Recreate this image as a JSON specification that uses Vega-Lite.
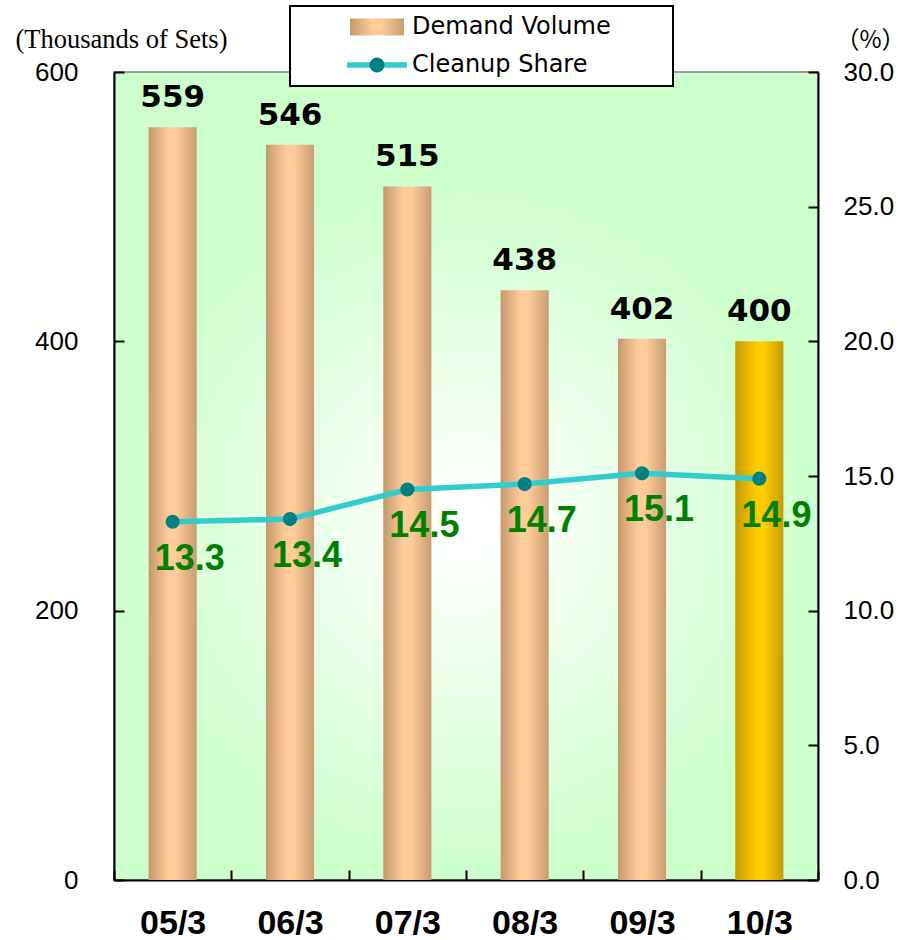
{
  "$schema": "https://vega.github.io/schema/vega-lite/v6.json",
  "width": 704,
  "height": 808,
  "autosize": {"type": "none"},
  "padding": {"left": 114, "top": 72, "right": 94, "bottom": 60},
  "background": "#ffffff",
  "view": {
    "fill": {
      "gradient": "radial",
      "x1": 0.5, "y1": 0.56, "r1": 0,
      "x2": 0.5, "y2": 0.56, "r2": 0.44,
      "stops": [
        {"offset": 0, "color": "#ffffff"},
        {"offset": 0.12, "color": "#fbfffb"},
        {"offset": 1, "color": "#ccffcc"}
      ]
    },
    "stroke": "#999999",
    "strokeWidth": 2
  },
  "data": {
    "values": [
      {"period": "05/3", "demand": 559, "share": 13.3},
      {"period": "06/3", "demand": 546, "share": 13.4},
      {"period": "07/3", "demand": 515, "share": 14.5},
      {"period": "08/3", "demand": 438, "share": 14.7},
      {"period": "09/3", "demand": 402, "share": 15.1},
      {"period": "10/3", "demand": 400, "share": 14.9}
    ]
  },
  "encoding": {
    "x": {
      "field": "period",
      "type": "nominal",
      "sort": null,
      "scale": {"paddingInner": 0, "paddingOuter": 0},
      "axis": {
        "title": null,
        "labelAngle": 0,
        "tickBand": "extent",
        "tickSize": -10,
        "labelFont": "Liberation Sans",
        "labelFontSize": 34,
        "labelFontWeight": "bold",
        "labelBaseline": "top",
        "labelPadding": 36,
        "labelOverlap": false
      }
    }
  },
  "layer": [
    {
      "encoding": {
        "y": {
          "field": "demand",
          "type": "quantitative",
          "scale": {"domain": [0, 600], "nice": false},
          "axis": {
            "orient": "left",
            "values": [0, 200, 400, 600],
            "title": "(Thousands of Sets)",
            "titleAngle": 0,
            "titleAlign": "left",
            "titleBaseline": "alphabetic",
            "titleX": -99,
            "titleY": -25,
            "titleFont": "Liberation Serif",
            "titleFontSize": 26.5,
            "titleFontWeight": "normal",
            "tickSize": -10,
            "labelPadding": 46
          }
        }
      },
      "layer": [
        {
          "transform": [{"filter": "datum.period !== '10/3'"}],
          "mark": {
            "type": "bar",
            "width": {"band": 0.41},
            "fill": {
              "gradient": "linear",
              "x1": 0, "y1": 0, "x2": 1, "y2": 0,
              "stops": [
                {"offset": 0, "color": "#c4986e"},
                {"offset": 0.42, "color": "#ffcc99"},
                {"offset": 0.58, "color": "#ffcc99"},
                {"offset": 1, "color": "#c89c72"}
              ]
            },
            "stroke": null
          }
        },
        {
          "transform": [{"filter": "datum.period === '10/3'"}],
          "mark": {
            "type": "bar",
            "width": {"band": 0.41},
            "fill": {
              "gradient": "linear",
              "x1": 0, "y1": 0, "x2": 1, "y2": 0,
              "stops": [
                {"offset": 0, "color": "#c49c00"},
                {"offset": 0.45, "color": "#ffcc00"},
                {"offset": 0.6, "color": "#ffcc00"},
                {"offset": 1, "color": "#c49c00"}
              ]
            },
            "stroke": null
          }
        },
        {
          "mark": {
            "type": "text",
            "font": "DejaVu Sans",
            "fontSize": 31,
            "fontWeight": "bold",
            "baseline": "alphabetic",
            "align": "center",
            "dy": -20,
            "color": "#000000"
          },
          "encoding": {
            "text": {"field": "demand", "type": "quantitative"}
          }
        }
      ]
    },
    {
      "encoding": {
        "y": {
          "field": "share",
          "type": "quantitative",
          "scale": {"domain": [0, 30], "nice": false},
          "axis": {
            "orient": "right",
            "values": [0, 5, 10, 15, 20, 25, 30],
            "format": ".1f",
            "title": "（%）",
            "titleAngle": 0,
            "titleAlign": "left",
            "titleBaseline": "alphabetic",
            "titleX": 17,
            "titleY": -25,
            "titleFont": "Noto Sans CJK JP",
            "titleFontSize": 24,
            "titleFontWeight": "normal",
            "tickSize": -10,
            "labelPadding": 35
          }
        }
      },
      "layer": [
        {
          "mark": {"type": "line", "color": "#33cccc", "strokeWidth": 5.5},
          "encoding": {}
        },
        {
          "mark": {"type": "circle", "color": "#008080", "size": 200, "opacity": 1}
        },
        {
          "mark": {"type": "point", "filled": true, "opacity": 0, "size": 400, "strokeWidth": 0},
          "encoding": {
            "fill": {
              "datum": "Cleanup Share",
              "type": "nominal",
              "scale": {
                "domain": ["Demand Volume", "Cleanup Share"],
                "range": [
                  {"expr": "{gradient: 'linear', x1: 0, y1: 0, x2: 1, y2: 0, stops: [{offset: 0, color: '#c4986e'}, {offset: 0.42, color: '#ffcc99'}, {offset: 0.58, color: '#ffcc99'}, {offset: 1, color: '#c89c72'}]}"},
                  {"expr": "{gradient: 'radial', x1: 0.5, y1: 0.5, r1: 0, x2: 0.5, y2: 0.5, r2: 0.5, stops: [{offset: 0, color: '#008080'}, {offset: 0.245, color: '#008080'}, {offset: 0.26, color: '#33cccc'}, {offset: 1, color: '#33cccc'}]}"}
                ]
              },
              "legend": {
                "title": null,
                "orient": "none",
                "legendX": 176,
                "legendY": -66,
                "direction": "vertical",
                "labelExpr": "datum.label + '⠀⠀⠀'"
              }
            },
            "shape": {
              "datum": "Cleanup Share",
              "type": "nominal",
              "scale": {
                "domain": ["Demand Volume", "Cleanup Share"],
                "range": [
                  "M-2.7,-0.85H2.7V0.85H-2.7Z",
                  "M-3,-0.275H3V0.275H-3Z M0.75,0A0.75,0.75 0 1 1 -0.75,0A0.75,0.75 0 1 1 0.75,0Z"
                ]
              },
              "legend": {
                "title": null,
                "orient": "none",
                "legendX": 176,
                "legendY": -66,
                "direction": "vertical",
                "labelExpr": "datum.label + '⠀⠀⠀'"
              }
            }
          }
        },
        {
          "mark": {
            "type": "text",
            "font": "Liberation Sans",
            "fontSize": 36,
            "fontWeight": "bold",
            "color": "#008000",
            "align": "left",
            "baseline": "alphabetic",
            "dx": -18,
            "dy": 48
          },
          "encoding": {
            "text": {"field": "share", "type": "quantitative", "format": ".1f"}
          }
        }
      ]
    }
  ],
  "resolve": {"scale": {"y": "independent"}},
  "config": {
    "font": "Liberation Sans",
    "axis": {
      "zindex": 1,
      "grid": false,
      "domainColor": "#000000",
      "domainWidth": 2,
      "tickColor": "#000000",
      "tickWidth": 2,
      "labelColor": "#000000",
      "titleColor": "#000000",
      "labelFont": "Liberation Sans",
      "labelFontSize": 26,
      "labelFontWeight": "normal",
      "labelFlush": false,
      "labelOverlap": false
    },
    "legend": {
      "padding": 9,
      "rowPadding": 14,
      "symbolSize": 400,
      "symbolOffset": 66,
      "labelOffset": 23,
      "symbolOpacity": 1,
      "symbolStrokeWidth": 0,
      "labelFont": "DejaVu Sans",
      "labelFontSize": 24,
      "labelColor": "#000000",
      "labelLimit": 400,
      "labelBaseline": "middle",
      "fillColor": "#ffffff",
      "strokeColor": "#000000",
      "strokeWidth": 2
    }
  }
}
